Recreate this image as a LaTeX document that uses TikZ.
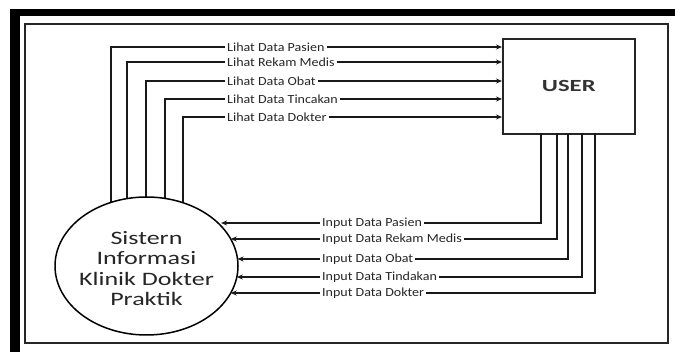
\documentclass[tikz,border=0pt]{standalone}
\usepackage{fontspec}
\setmainfont{Carlito}
\newfontfamily\lblfont[FakeStretch=1.13]{Carlito}
\newfontfamily\ellfont[FakeStretch=1.37]{Carlito}
\newfontfamily\userfont[FakeStretch=1.45]{Carlito}
\usetikzlibrary{arrows.meta,shapes.geometric,backgrounds}
\tikzset{
  conn/.style={line width=1.5pt, draw=black!90},
  arr/.style={conn, -{Stealth[length=6pt,width=5pt]}},
  lbl/.style={font=\lblfont\fontsize{12.4}{14}\selectfont, inner sep=2pt, text=black!85},
}
\begin{document}
\begin{tikzpicture}[x=1pt,y=-1pt]
\useasboundingbox (0,0) rectangle (675,352);
% frames
\fill[black] (10,9) rectangle (675,16);
\fill[black] (10,9) rectangle (20,352);
\draw[line width=2pt, black!85] (25,24) rectangle (668,343);
% USER box
\node[draw, line width=1.6pt, draw=black!85, anchor=north west, minimum width=132pt, minimum height=95pt, inner sep=0,
      font=\userfont\bfseries\fontsize{17}{20}\selectfont, text=black!80] (user) at (502,38) {USER};
% ellipse
\node[ellipse, draw, line width=1.5pt, fill=white, minimum width=183pt, minimum height=138pt, inner sep=0] (sys) at (146.5,266) {};
\node[align=center, inner sep=0, font=\ellfont\fontsize{19}{20.5}\selectfont, text=black!85] (systext) at (146.5,268.5)
  {Sistern\\Informasi\\Klinik Dokter\\Praktik};
% Lihat labels
\node[lbl, anchor=west] (l1) at (225,47) {Lihat Data Pasien};
\node[lbl, anchor=west] (l2) at (225,62) {Lihat Rekam Medis};
\node[lbl, anchor=west] (l3) at (225,81) {Lihat Data Obat};
\node[lbl, anchor=west] (l4) at (225,99) {Lihat Data Tincakan};
\node[lbl, anchor=west] (l5) at (225,117) {Lihat Data Dokter};
\coordinate (v1) at (111,266);
\coordinate (v2) at (127,266);
\coordinate (v3) at (146,266);
\coordinate (v4) at (165,266);
\coordinate (v5) at (183,266);
\begin{pgfonlayer}{background}
\foreach \i in {1,...,5} {
  \draw[conn] (v\i) |- (l\i.west);
}
\end{pgfonlayer}
\foreach \i in {1,...,5} {
  \draw[arr] (l\i.east) -- (l\i.east -| user.west);
}
% Input labels
\node[lbl, anchor=west] (i1) at (320,223) {Input Data Pasien};
\node[lbl, anchor=west] (i2) at (320,239) {Input Data Rekam Medis};
\node[lbl, anchor=west] (i3) at (320,259) {Input Data Obat};
\node[lbl, anchor=west] (i4) at (320,277) {Input Data Tindakan};
\node[lbl, anchor=west] (i5) at (320,293) {Input Data Dokter};
\coordinate (u1) at (541,133);
\coordinate (u2) at (557,133);
\coordinate (u3) at (568,133);
\coordinate (u4) at (582,133);
\coordinate (u5) at (595,133);
\coordinate (t1) at ({146.5+91.5*sqrt(1-((223-266)/69)^2)+3},223);
\coordinate (t2) at ({146.5+91.5*sqrt(1-((239-266)/69)^2)},239);
\coordinate (t3) at ({146.5+91.5*sqrt(1-((259-266)/69)^2)},259);
\coordinate (t4) at ({146.5+91.5*sqrt(1-((277-266)/69)^2)},277);
\coordinate (t5) at ({146.5+91.5*sqrt(1-((293-266)/69)^2)},293);
\foreach \i in {1,...,5} {
  \draw[conn] (u\i) |- (i\i.east);
  \draw[arr] (i\i.west) -- (t\i);
}
\end{tikzpicture}
\end{document}
